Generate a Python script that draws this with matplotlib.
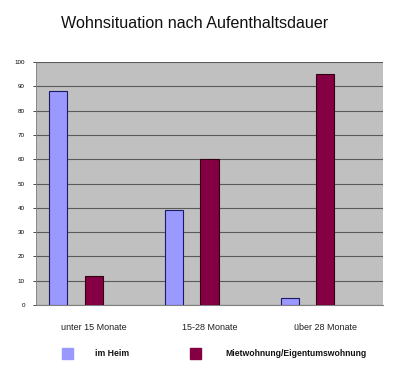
#!/usr/bin/env python3
# Wohnsituation nach Aufenthaltsdauer: gruppiertes Balkendiagramm im Excel-Stil.

import matplotlib
matplotlib.use("Agg")
import matplotlib.pyplot as plt
from matplotlib.patches import Rectangle

categories = ["unter 15 Monate", "15-28 Monate", "über 28 Monate"]
im_heim = [88, 39, 3]
mietwohnung = [12, 60, 95]
series_labels = ["im Heim", "Mietwohnung/Eigentumswohnung"]
y_ticks = [0, 10, 20, 30, 40, 50, 60, 70, 80, 90, 100]

BLUE = "#9999ff"
PURPLE = "#850042"

plt.rcParams["font.family"] = ["Liberation Sans", "DejaVu Sans"]

fig = plt.figure(figsize=(3.93, 3.67), dpi=100)
ax = fig.add_axes([36 / 393, 1 - 305 / 367, 347 / 393, 243 / 367])
ax.set_facecolor("#c0c0c0")

xs = list(range(len(categories)))
width = 0.156
offset = 0.307
ax.bar([x - offset for x in xs], im_heim, width, color=BLUE,
       edgecolor="#1a1a66", linewidth=0.8, zorder=3)
ax.bar(xs, mietwohnung, width, color=PURPLE,
       edgecolor="#330011", linewidth=0.8, zorder=3)

ax.set_xlim(-0.5, 2.5)
ax.set_ylim(0, 100)
ax.set_yticks(y_ticks)
ax.set_yticklabels([str(v) for v in y_ticks], fontsize=4.5)
ax.set_xticks(xs)
ax.set_xticklabels(categories, fontsize=6.5, color="#222222")
ax.tick_params(axis="x", length=0, pad=13)
ax.tick_params(axis="y", length=2, width=0.5, pad=6)
ax.yaxis.grid(True, color="#5a5a5a", linewidth=0.8, zorder=1)
for side in ("top", "right"):
    ax.spines[side].set_visible(False)
ax.spines["left"].set_color("#808080")
ax.spines["left"].set_linewidth(0.6)
ax.spines["bottom"].set_color("#808080")
ax.spines["bottom"].set_linewidth(0.8)

fig.text(195 / 393, 1 - 24 / 367, "Wohnsituation nach Aufenthaltsdauer",
         ha="center", va="center", fontsize=11.6, color="#111111")

# Legende unter dem Diagramm
for px, color, label, tx in [(62, BLUE, series_labels[0], 95),
                             (190, PURPLE, series_labels[1], 225)]:
    fig.patches.append(Rectangle((px / 393, 1 - 359 / 367), 11 / 393, 11 / 367,
                                 transform=fig.transFigure, color=color))
    fig.text(tx / 393, 1 - 354 / 367, label, ha="left", va="center",
             fontsize=6.2, fontweight="bold", color="#111111")

fig.savefig("out.png", dpi=100, facecolor="white")
